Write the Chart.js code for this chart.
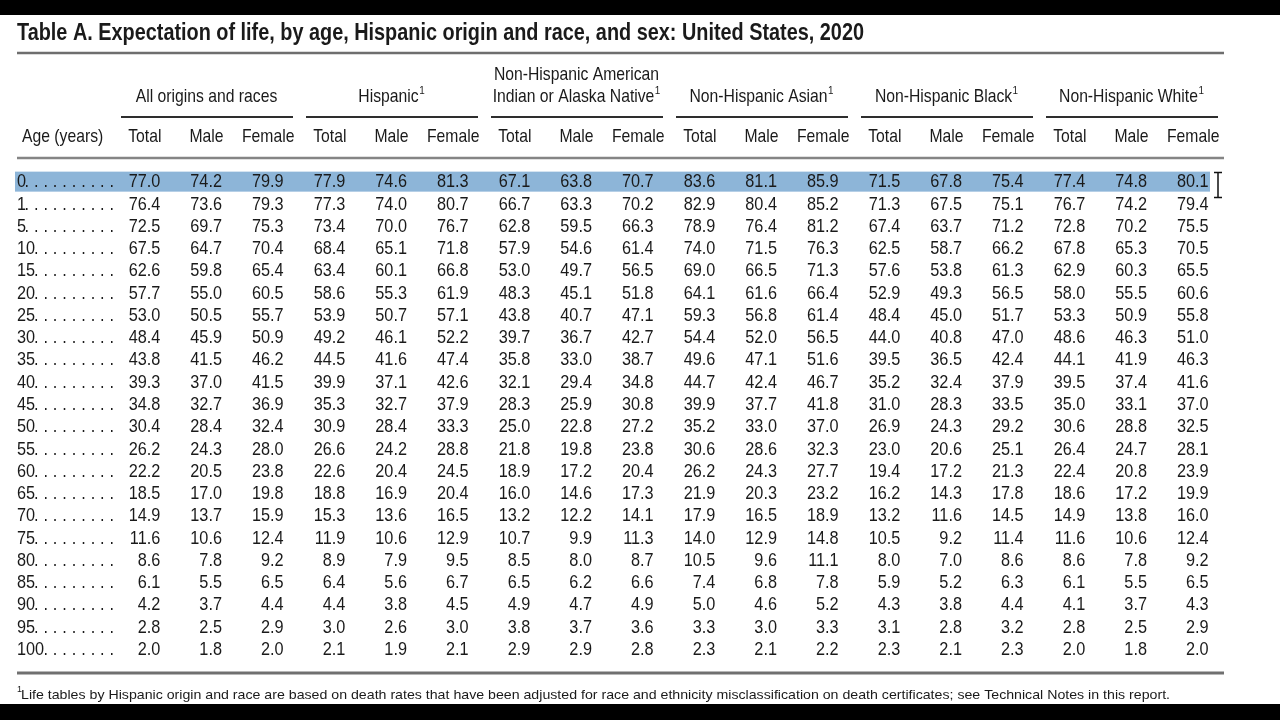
<!DOCTYPE html>
<html>
<head>
<meta charset="utf-8">
<title>Table A. Expectation of life, 2020</title>
<script src="https://cdn.jsdelivr.net/npm/chart.js@4.4.1/dist/chart.umd.min.js"></script>
<style>
  html, body { margin: 0; padding: 0; background: #fff; }
  canvas { display: block; }
</style>
</head>
<body>
<canvas id="lifeTable" width="1280" height="720"></canvas>
<script>
// row labels (age in years)
const ages = ['0', '1', '5', '10', '15', '20', '25', '30', '35', '40', '45', '50',
  '55', '60', '65', '70', '75', '80', '85', '90', '95', '100'];

const groups = ['All origins and races', 'Hispanic', 'Non-Hispanic American\nIndian or Alaska Native',
  'Non-Hispanic Asian', 'Non-Hispanic Black', 'Non-Hispanic White'];
const groupNote = [false, true, true, true, true, true];
const sexes = ['Total', 'Male', 'Female'];

const allTotal = [77.0, 76.4, 72.5, 67.5, 62.6, 57.7, 53.0, 48.4, 43.8, 39.3, 34.8, 30.4, 26.2, 22.2, 18.5, 14.9, 11.6, 8.6, 6.1, 4.2, 2.8, 2.0];
const allMale = [74.2, 73.6, 69.7, 64.7, 59.8, 55.0, 50.5, 45.9, 41.5, 37.0, 32.7, 28.4, 24.3, 20.5, 17.0, 13.7, 10.6, 7.8, 5.5, 3.7, 2.5, 1.8];
const allFemale = [79.9, 79.3, 75.3, 70.4, 65.4, 60.5, 55.7, 50.9, 46.2, 41.5, 36.9, 32.4, 28.0, 23.8, 19.8, 15.9, 12.4, 9.2, 6.5, 4.4, 2.9, 2.0];

const hispTotal = [77.9, 77.3, 73.4, 68.4, 63.4, 58.6, 53.9, 49.2, 44.5, 39.9, 35.3, 30.9, 26.6, 22.6, 18.8, 15.3, 11.9, 8.9, 6.4, 4.4, 3.0, 2.1];
const hispMale = [74.6, 74.0, 70.0, 65.1, 60.1, 55.3, 50.7, 46.1, 41.6, 37.1, 32.7, 28.4, 24.2, 20.4, 16.9, 13.6, 10.6, 7.9, 5.6, 3.8, 2.6, 1.9];
const hispFemale = [81.3, 80.7, 76.7, 71.8, 66.8, 61.9, 57.1, 52.2, 47.4, 42.6, 37.9, 33.3, 28.8, 24.5, 20.4, 16.5, 12.9, 9.5, 6.7, 4.5, 3.0, 2.1];

const aianTotal = [67.1, 66.7, 62.8, 57.9, 53.0, 48.3, 43.8, 39.7, 35.8, 32.1, 28.3, 25.0, 21.8, 18.9, 16.0, 13.2, 10.7, 8.5, 6.5, 4.9, 3.8, 2.9];
const aianMale = [63.8, 63.3, 59.5, 54.6, 49.7, 45.1, 40.7, 36.7, 33.0, 29.4, 25.9, 22.8, 19.8, 17.2, 14.6, 12.2, 9.9, 8.0, 6.2, 4.7, 3.7, 2.9];
const aianFemale = [70.7, 70.2, 66.3, 61.4, 56.5, 51.8, 47.1, 42.7, 38.7, 34.8, 30.8, 27.2, 23.8, 20.4, 17.3, 14.1, 11.3, 8.7, 6.6, 4.9, 3.6, 2.8];

const asianTotal = [83.6, 82.9, 78.9, 74.0, 69.0, 64.1, 59.3, 54.4, 49.6, 44.7, 39.9, 35.2, 30.6, 26.2, 21.9, 17.9, 14.0, 10.5, 7.4, 5.0, 3.3, 2.3];
const asianMale = [81.1, 80.4, 76.4, 71.5, 66.5, 61.6, 56.8, 52.0, 47.1, 42.4, 37.7, 33.0, 28.6, 24.3, 20.3, 16.5, 12.9, 9.6, 6.8, 4.6, 3.0, 2.1];
const asianFemale = [85.9, 85.2, 81.2, 76.3, 71.3, 66.4, 61.4, 56.5, 51.6, 46.7, 41.8, 37.0, 32.3, 27.7, 23.2, 18.9, 14.8, 11.1, 7.8, 5.2, 3.3, 2.2];

const blackTotal = [71.5, 71.3, 67.4, 62.5, 57.6, 52.9, 48.4, 44.0, 39.5, 35.2, 31.0, 26.9, 23.0, 19.4, 16.2, 13.2, 10.5, 8.0, 5.9, 4.3, 3.1, 2.3];
const blackMale = [67.8, 67.5, 63.7, 58.7, 53.8, 49.3, 45.0, 40.8, 36.5, 32.4, 28.3, 24.3, 20.6, 17.2, 14.3, 11.6, 9.2, 7.0, 5.2, 3.8, 2.8, 2.1];
const blackFemale = [75.4, 75.1, 71.2, 66.2, 61.3, 56.5, 51.7, 47.0, 42.4, 37.9, 33.5, 29.2, 25.1, 21.3, 17.8, 14.5, 11.4, 8.6, 6.3, 4.4, 3.2, 2.3];

const whiteTotal = [77.4, 76.7, 72.8, 67.8, 62.9, 58.0, 53.3, 48.6, 44.1, 39.5, 35.0, 30.6, 26.4, 22.4, 18.6, 14.9, 11.6, 8.6, 6.1, 4.1, 2.8, 2.0];
const whiteMale = [74.8, 74.2, 70.2, 65.3, 60.3, 55.5, 50.9, 46.3, 41.9, 37.4, 33.1, 28.8, 24.7, 20.8, 17.2, 13.8, 10.6, 7.8, 5.5, 3.7, 2.5, 1.8];
const whiteFemale = [80.1, 79.4, 75.5, 70.5, 65.5, 60.6, 55.8, 51.0, 46.3, 41.6, 37.0, 32.5, 28.1, 23.9, 19.9, 16.0, 12.4, 9.2, 6.5, 4.3, 2.9, 2.0];

const titleText = 'Table A. Expectation of life, by age, Hispanic origin and race, and sex: United States, 2020';
const noteText = 'Life tables by Hispanic origin and race are based on death rates that have been adjusted for race and ethnicity misclassification on death certificates; see Technical Notes in this report.';

const columns = [allTotal, allMale, allFemale, hispTotal, hispMale, hispFemale,
  aianTotal, aianMale, aianFemale, asianTotal, asianMale, asianFemale,
  blackTotal, blackMale, blackFemale, whiteTotal, whiteMale, whiteFemale];
const columnKeys = groups.flatMap(g => sexes.map(s => g + '|' + s));

const INK = '#1a1a1a';
const FONT = '"Liberation Sans", Arial, sans-serif';
const SIZE = 18.5;
const NUM_SX = 0.88;   // condensed look of the original face
const WORD_SX = 0.85;

// draws horizontally squeezed text, returns its drawn width
function txt(ctx, str, x, y, font, sx, align) {
  ctx.save();
  ctx.font = font;
  ctx.textAlign = align || 'left';
  ctx.translate(x, y);
  ctx.scale(sx, 1);
  ctx.fillText(str, 0, 0);
  const w = ctx.measureText(str).width * sx;
  ctx.restore();
  return w;
}

function textWidth(ctx, str, font, sx) {
  ctx.save();
  ctx.font = font;
  const w = ctx.measureText(str).width * sx;
  ctx.restore();
  return w;
}

function fitText(ctx, str, x, y, width, font) {
  const sx = width / textWidth(ctx, str, font, 1);
  txt(ctx, str, x, y, font, sx, 'left');
}

function hline(ctx, x1, x2, yy, lw, color) {
  ctx.save();
  ctx.strokeStyle = color;
  ctx.lineWidth = lw;
  ctx.beginPath();
  ctx.moveTo(x1, yy);
  ctx.lineTo(x2, yy);
  ctx.stroke();
  ctx.restore();
}

const tablePlugin = {
  id: 'tableText',
  beforeDraw(chart) {
    const ctx = chart.ctx;
    ctx.save();
    ctx.fillStyle = '#fff';
    ctx.fillRect(0, 0, chart.width, chart.height);
    ctx.fillStyle = '#000';
    ctx.fillRect(0, 0, chart.width, 15);
    ctx.fillRect(0, 704, chart.width, 16);
    ctx.restore();
  },
  afterDraw(chart) {
    const ctx = chart.ctx;
    const x = chart.scales.x;
    const y = chart.scales.y;
    const band = (x.right - x.left) / columnKeys.length;
    const left = 17, right = x.right;
    const body = SIZE + 'px ' + FONT;

    // selected first row
    const y0 = y.getPixelForValue(0);
    ctx.save();
    ctx.fillStyle = '#8db5d8';
    ctx.fillRect(15, y0 - 10.5, 1195, 20);
    ctx.restore();

    ctx.fillStyle = INK;
    ctx.textBaseline = 'alphabetic';

    // title + rule
    fitText(ctx, titleText, 17, 40, 847, 'bold 24.5px ' + FONT);
    hline(ctx, left, right, 53, 2.5, '#6e6e6e');

    // group headers
    ctx.textBaseline = 'middle';
    groups.forEach((g, gi) => {
      const cx = x.getPixelForValue(gi * 3 + 1);
      const lines = g.split('\n');
      lines.forEach((ln, li) => {
        const ly = 96.5 - (lines.length - 1 - li) * 22;
        const last = li === lines.length - 1 && groupNote[gi];
        const w = textWidth(ctx, ln, body, WORD_SX);
        const total = w + (last ? 6 : 0);
        txt(ctx, ln, cx - total / 2, ly, body, WORD_SX, 'left');
        if (last) {
          txt(ctx, '1', cx - total / 2 + w + 0.5, ly - 6, '11px ' + FONT, 0.9, 'left');
        }
      });
      const gl = x.getPixelForValue(gi * 3) - band / 2;
      hline(ctx, gl + 7, gl + band * 3 - 6, 117, 2, '#2e2e2e');
    });

    // column headers
    txt(ctx, 'Age (years)', 22, 137, body, WORD_SX, 'left');
    columnKeys.forEach((k, i) => {
      txt(ctx, k.split('|')[1], x.getPixelForValue(i), 137, body, WORD_SX, 'center');
    });
    hline(ctx, left, right, 158, 2.7, '#858585');

    // age labels with dot leaders
    ages.forEach((a, j) => {
      const yy = y.getPixelForValue(j);
      const lw = txt(ctx, a, 17, yy, body, NUM_SX, 'left');
      for (let k = 0; k < 10; k++) {
        const dx = 24.5 + k * 9.45;
        if (dx >= 17 + lw - 3) txt(ctx, '.', dx, yy, body, NUM_SX, 'left');
      }
    });

    // cell values, right aligned, placed by the dataset points
    chart.data.datasets.forEach((ds, di) => {
      const meta = chart.getDatasetMeta(di);
      meta.data.forEach((pt, j) => {
        txt(ctx, ds.values[j].toFixed(1), pt.x + 15.5, pt.y, body, NUM_SX, 'right');
      });
    });

    // bottom rule and footnote
    hline(ctx, left, right, 673, 3, '#707070');
    ctx.textBaseline = 'alphabetic';
    txt(ctx, '1', 17, 692, '9px ' + FONT, 1, 'left');
    fitText(ctx, noteText, 21, 698.5, 1149, '13px ' + FONT);

    // text cursor
    ctx.save();
    ctx.strokeStyle = '#111';
    ctx.lineWidth = 1.5;
    ctx.beginPath();
    ctx.moveTo(1218, 173); ctx.lineTo(1218, 197);
    ctx.moveTo(1214, 172.5); ctx.lineTo(1222, 172.5);
    ctx.moveTo(1214, 197.5); ctx.lineTo(1222, 197.5);
    ctx.stroke();
    ctx.restore();
  }
};

new Chart(document.getElementById('lifeTable'), {
  type: 'scatter',
  data: {
    datasets: columns.map((col, i) => ({
      label: columnKeys[i],
      values: col,
      data: ages.map(a => ({ x: columnKeys[i], y: a })),
      pointRadius: 0,
      pointHoverRadius: 0
    }))
  },
  options: {
    responsive: false,
    animation: false,
    devicePixelRatio: 1,
    events: [],
    layout: { padding: { left: 114, right: 56, top: 171, bottom: 59 } },
    plugins: { legend: { display: false }, tooltip: { enabled: false } },
    scales: {
      x: { type: 'category', labels: columnKeys, offset: true, display: false },
      y: { type: 'category', labels: ages, offset: true, display: false }
    }
  },
  plugins: [tablePlugin]
});
</script>
</body>
</html>
